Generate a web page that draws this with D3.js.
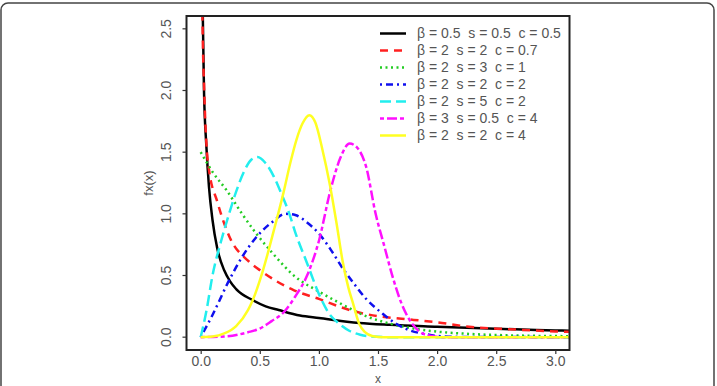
<!DOCTYPE html>
<html>
<head>
<meta charset="utf-8">
<script src="https://cdn.jsdelivr.net/npm/d3@7"></script>
<style>
  body { margin: 0; background: #fff; }
  svg { display: block; font-family: "Liberation Sans", Arial, sans-serif; }
  .leg { white-space: pre; }
</style>
</head>
<body>
<svg id="chart" width="717" height="386"></svg>
<script>
// values: [x, fx(x)]
const blackPts = [[0.012, 3.2], [0.018, 2.6], [0.028, 2.0], [0.048, 1.55], [0.07, 1.22], [0.1, 0.95], [0.14, 0.72], [0.2, 0.54], [0.25, 0.45], [0.3, 0.39], [0.44, 0.3], [0.55, 0.25], [0.66, 0.22], [0.84, 0.175], [1.0, 0.155], [1.34, 0.115], [1.6, 0.1], [2.0, 0.085], [2.5, 0.068], [3.0, 0.055], [3.12, 0.052]];
const redPts = [[0.01, 3.2], [0.015, 2.6], [0.03, 2.0], [0.053, 1.5], [0.07, 1.36], [0.14, 1.1], [0.25, 0.8], [0.4, 0.62], [0.52, 0.53], [0.79, 0.38], [1.0, 0.31], [1.26, 0.22], [1.5, 0.17], [1.7, 0.15], [2.0, 0.12], [2.27, 0.085], [2.6, 0.065], [3.0, 0.047], [3.12, 0.043]];
const greenPts = [[0, 1.5], [0.1, 1.34], [0.22, 1.19], [0.35, 1.0], [0.47, 0.84], [0.6, 0.69], [0.8, 0.49], [1.0, 0.37], [1.15, 0.29], [1.4, 0.17], [1.6, 0.11], [1.8, 0.07], [2.0, 0.045], [2.3, 0.025], [2.7, 0.013], [3.12, 0.008]];
const bluePts = [[0, 0], [0.1, 0.18], [0.24, 0.46], [0.35, 0.65], [0.47, 0.81], [0.6, 0.93], [0.72, 1.0], [0.8, 0.99], [0.9, 0.93], [1.0, 0.84], [1.1, 0.71], [1.2, 0.56], [1.3, 0.43], [1.4, 0.31], [1.54, 0.19], [1.65, 0.11], [1.77, 0.055], [1.9, 0.025], [2.0, 0.01], [2.2, 0.002], [3.12, 0]];
const cyanPts = [[0, 0], [0.05, 0.22], [0.1, 0.5], [0.17, 0.77], [0.24, 1.0], [0.3, 1.18], [0.37, 1.35], [0.43, 1.44], [0.48, 1.46], [0.55, 1.41], [0.62, 1.3], [0.68, 1.17], [0.75, 1.0], [0.8, 0.85], [0.9, 0.6], [1.0, 0.35], [1.08, 0.2], [1.17, 0.11], [1.26, 0.05], [1.35, 0.02], [1.45, 0.005], [1.6, 0], [3.12, 0]];
const magentaPts = [[0, 0], [0.2, 0.005], [0.4, 0.04], [0.5, 0.07], [0.6, 0.13], [0.7, 0.2], [0.8, 0.33], [0.9, 0.5], [1.0, 0.78], [1.1, 1.2], [1.18, 1.45], [1.26, 1.57], [1.32, 1.54], [1.4, 1.38], [1.48, 1.0], [1.55, 0.75], [1.63, 0.47], [1.7, 0.27], [1.78, 0.12], [1.86, 0.04], [1.95, 0.01], [2.05, 0], [3.12, 0]];
const yellowPts = [[0, 0], [0.1, 0.005], [0.2, 0.03], [0.3, 0.09], [0.4, 0.22], [0.44, 0.3], [0.52, 0.52], [0.62, 0.87], [0.7, 1.17], [0.76, 1.42], [0.81, 1.6], [0.86, 1.73], [0.92, 1.8], [0.97, 1.74], [1.03, 1.52], [1.09, 1.25], [1.15, 0.92], [1.2, 0.62], [1.25, 0.4], [1.29, 0.27], [1.34, 0.11], [1.39, 0.04], [1.45, 0.01], [1.55, 0], [3.12, 0]];

const legendLabels = ["β = 0.5  s = 0.5  c = 0.5", "β = 2  s = 2  c = 0.7", "β = 2  s = 3  c = 1", "β = 2  s = 2  c = 2", "β = 2  s = 5  c = 2", "β = 3  s = 0.5  c = 4", "β = 2  s = 2  c = 4"];
const xTicks = [0, 0.5, 1, 1.5, 2, 2.5, 3];
const yTicks = [0, 0.5, 1, 1.5, 2, 2.5];

const series = [
    { pts: blackPts, color: "#000000", dash: null },
    { pts: redPts, color: "#ff2020", dash: "8,6" },
    { pts: greenPts, color: "#22cc22", dash: "2,3.5" },
    { pts: bluePts, color: "#1010ee", dash: "2,4,7,4" },
    { pts: cyanPts, color: "#22eeee", dash: "11,5" },
    { pts: magentaPts, color: "#ff10ff", dash: "4,3,10,3" },
    { pts: yellowPts, color: "#ffff22", dash: null }
];

const box = { left: 186.5, right: 569.5, top: 16, bottom: 350 };

const svg = d3.select("#chart");

// outer frame
svg.append("rect")
    .attr("x", 1).attr("y", 3)
    .attr("width", 713).attr("height", 420)
    .attr("rx", 7)
    .attr("fill", "none")
    .attr("stroke", "#444")
    .attr("stroke-width", 1.5);

const x = d3.scaleLinear().domain([-0.12, 3.12]).range([box.left, box.right]);
const y = d3.scaleLinear().domain([-0.104, 2.604]).range([box.bottom, box.top]);

svg.append("clipPath").attr("id", "clip")
    .append("rect")
    .attr("x", box.left).attr("y", box.top)
    .attr("width", box.right - box.left).attr("height", box.bottom - box.top);

const line = d3.line()
    .x(d => x(d[0]))
    .y(d => y(d[1]))
    .curve(d3.curveMonotoneX);

const plot = svg.append("g").attr("clip-path", "url(#clip)");
series.forEach(s => {
    plot.append("path")
        .attr("d", line(s.pts))
        .attr("fill", "none")
        .attr("stroke", s.color)
        .attr("stroke-width", 2.5)
        .attr("stroke-dasharray", s.dash);
});

// box
svg.append("rect")
    .attr("x", box.left).attr("y", box.top)
    .attr("width", box.right - box.left).attr("height", box.bottom - box.top)
    .attr("fill", "none")
    .attr("stroke", "#222")
    .attr("stroke-width", 2);

// axes, R style
const xAxis = svg.append("g")
    .attr("transform", `translate(0, ${box.bottom})`)
    .call(d3.axisBottom(x).tickValues(xTicks).tickFormat(d3.format(".1f")).tickSizeInner(4).tickSizeOuter(0).tickPadding(2));
const yAxis = svg.append("g")
    .attr("transform", `translate(${box.left}, 0)`)
    .call(d3.axisLeft(y).tickValues(yTicks).tickFormat(d3.format(".1f")).tickSizeInner(4).tickSizeOuter(0));

[xAxis, yAxis].forEach(a => {
    a.select(".domain").remove();
    a.selectAll("line").attr("stroke", "#333").attr("stroke-width", 1.2);
    a.selectAll("text").attr("fill", "#555").style("font-size", "14px").style("font-family", "Liberation Sans, Arial, sans-serif");
});
yAxis.selectAll("text")
    .attr("x", null).attr("dy", null)
    .attr("text-anchor", "middle")
    .attr("transform", d => `translate(${-16}, ${y(d)}) rotate(-90)`)
    .attr("y", 0);
yAxis.selectAll(".tick").attr("transform", null);
yAxis.selectAll(".tick line").attr("transform", d => `translate(0, ${y(d)})`);

svg.append("text")
    .attr("x", (box.left + box.right) / 2).attr("y", 383)
    .attr("text-anchor", "middle")
    .attr("fill", "#555")
    .style("font-size", "12px")
    .text("x");

svg.append("text")
    .attr("transform", `translate(153, ${(box.top + box.bottom) / 2}) rotate(-90)`)
    .attr("text-anchor", "middle")
    .attr("fill", "#555")
    .style("font-size", "13px")
    .text("fx(x)");

// legend
const legend = svg.append("g");
series.forEach((s, i) => {
    const ly = 33.5 + i * 17;
    legend.append("line")
        .attr("x1", 380).attr("x2", 406)
        .attr("y1", ly).attr("y2", ly)
        .attr("stroke", s.color)
        .attr("stroke-width", 2.5)
        .attr("stroke-dasharray", s.dash);
    legend.append("text")
        .attr("class", "leg")
        .attr("x", 417).attr("y", ly)
        .attr("dy", "0.35em")
        .attr("fill", "#555")
        .style("font-size", "14px")
        .text(legendLabels[i]);
});
</script>
</body>
</html>
